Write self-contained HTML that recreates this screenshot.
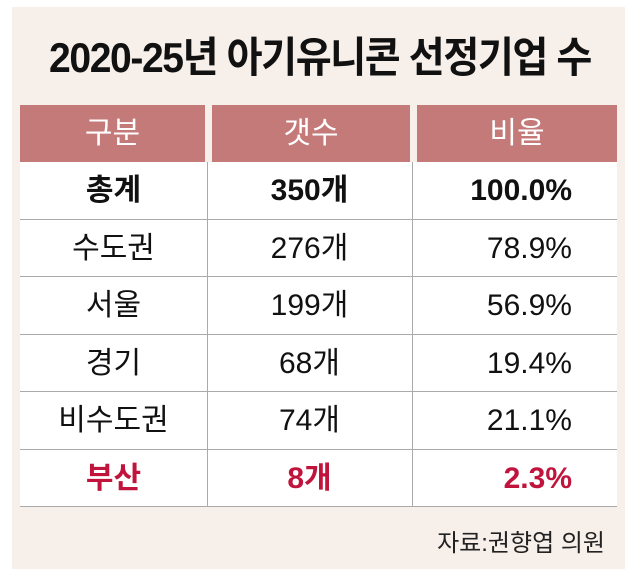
<!DOCTYPE html>
<html><head><meta charset="utf-8"><style>
body{margin:0;width:640px;height:579px;background:#fff;font-family:"Liberation Sans","Noto Sans CJK KR",sans-serif;position:relative;overflow:hidden}
.bg{position:absolute;left:12px;top:7px;width:613px;height:562px;background:#f7efea}
.title{position:absolute;left:0;width:640px;top:24px;text-align:center;font-size:42px;font-weight:bold;letter-spacing:-1.5px;color:#111;transform:scaleX(0.93)}
.hd{position:absolute;top:105px;height:57px;background:#c47a78;color:#fff;font-size:30px;line-height:57px;text-align:center}
.tbl{position:absolute;left:20px;top:162px;width:597px;height:345px;background:#fff}
.row{position:absolute;left:0;width:597px;height:57.5px;border-bottom:1px solid #aaa;box-sizing:border-box;font-size:30px;line-height:57px;color:#111}
.row div{position:absolute;top:0;text-align:center}
.c1{left:0;width:187px}.c2{left:187px;width:205px}.c3{left:392px;width:160px;text-align:right!important}
.vl{position:absolute;top:0;width:1px;height:345px;background:#aaa}
.src{position:absolute;right:35px;top:523px;font-size:24px;color:#222}
</style></head><body>
<div class="bg"></div>
<div class="title">2020-25년 아기유니콘 선정기업 수</div>
<div class="hd" style="left:20px;width:185px">구분</div>
<div class="hd" style="left:212px;width:198px">갯수</div>
<div class="hd" style="left:417px;width:200px">비율</div>
<div class="tbl">
<div class="vl" style="left:187px"></div>
<div class="vl" style="left:392px"></div>
<div class="row" style="top:0;font-weight:bold"><div class="c1">총계</div><div class="c2">350개</div><div class="c3">100.0%</div></div>
<div class="row" style="top:57.5px"><div class="c1">수도권</div><div class="c2">276개</div><div class="c3">78.9%</div></div>
<div class="row" style="top:115px"><div class="c1">서울</div><div class="c2">199개</div><div class="c3">56.9%</div></div>
<div class="row" style="top:172.5px"><div class="c1">경기</div><div class="c2">68개</div><div class="c3">19.4%</div></div>
<div class="row" style="top:230px"><div class="c1">비수도권</div><div class="c2">74개</div><div class="c3">21.1%</div></div>
<div class="row" style="top:287.5px;color:#c0143c;font-weight:bold"><div class="c1">부산</div><div class="c2">8개</div><div class="c3">2.3%</div></div>
</div>
<div class="src">자료:권향엽 의원</div>
</body></html>
